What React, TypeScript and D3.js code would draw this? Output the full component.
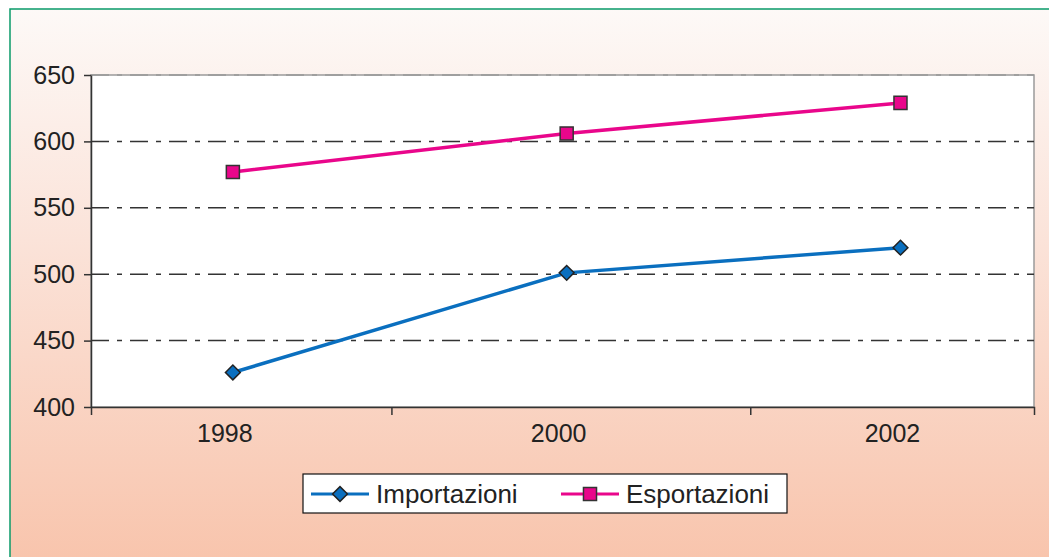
import * as d3 from 'd3';
import React, { useRef, useEffect } from 'react';

const years = [1998, 2000, 2002];
const importazioni = [426, 501, 520];
const esportazioni = [577, 606, 629];
const yTicks = [400, 450, 500, 550, 600, 650];
const seriesNames = ['Importazioni', 'Esportazioni'];

const W = 1049;
const H = 557;
const FONT = '"Liberation Sans", Arial, sans-serif';

function LineChart() {
    const ref = useRef<SVGSVGElement>(null);

    useEffect(() => {
        draw();
    }, []);

    const draw = () => {
        const svg = d3.select(ref.current);
        svg.selectAll('*').remove();

        const plot = { left: 91, right: 1034, top: 75, bottom: 407 };

        // background gradient
        const defs = svg.append('defs');
        const grad = defs.append('linearGradient')
            .attr('id', 'bg')
            .attr('x1', 0).attr('y1', 0).attr('x2', 0).attr('y2', 1);
        grad.append('stop').attr('offset', '0%').attr('stop-color', '#fdf9f7');
        grad.append('stop').attr('offset', '40%').attr('stop-color', '#fbe3d9');
        grad.append('stop').attr('offset', '100%').attr('stop-color', '#f8c2a9');

        svg.append('rect')
            .attr('x', 10).attr('y', 9)
            .attr('width', W + 20).attr('height', H + 20)
            .attr('fill', 'url(#bg)')
            .attr('stroke', '#0a9a6a')
            .attr('stroke-width', 1.5);

        // Scales
        const x = d3.scaleLinear()
            .domain([1997.15, 2002.8])
            .range([plot.left, plot.right]);

        const y = d3.scaleLinear()
            .domain([400, 650])
            .range([plot.bottom, plot.top]);

        // plot area
        svg.append('rect')
            .attr('x', plot.left).attr('y', plot.top)
            .attr('width', plot.right - plot.left)
            .attr('height', plot.bottom - plot.top)
            .attr('fill', '#ffffff')
            .attr('stroke', '#9a9a9a')
            .attr('stroke-width', 1.5);

        // grid
        svg.append('g')
            .selectAll('line')
            .data(yTicks.filter(t => t > 400))
            .enter()
            .append('line')
            .attr('x1', plot.left).attr('x2', plot.right)
            .attr('y1', d => y(d)).attr('y2', d => y(d))
            .attr('stroke', d => d === 650 ? '#999' : '#333')
            .attr('stroke-width', 1.5)
            .attr('stroke-dasharray', '18,8,5,8');

        // Axes
        const yAxis = d3.axisLeft(y)
            .tickValues(yTicks)
            .tickSize(7)
            .tickPadding(9)
            .tickSizeOuter(0);

        const yAxisDraw = svg.append('g')
            .attr('transform', `translate(${plot.left}, 0)`)
            .call(yAxis);
        yAxisDraw.attr('font-size', null).attr('font-family', null);
        yAxisDraw.select('.domain').attr('stroke', '#333').attr('stroke-width', 1.5);
        yAxisDraw.selectAll('.tick line').attr('stroke', '#333').attr('stroke-width', 1.5);
        yAxisDraw.selectAll('text')
            .attr('font-family', FONT)
            .attr('font-size', 25)
            .attr('fill', '#222');

        // category separators between the years
        const xAxis = d3.axisBottom(x)
            .tickValues([1998.95, 2001.1])
            .tickSize(8)
            .tickFormat(() => '')
            .tickSizeOuter(8);

        const xAxisDraw = svg.append('g')
            .attr('transform', `translate(0, ${plot.bottom})`)
            .call(xAxis);
        xAxisDraw.select('.domain').attr('stroke', '#333').attr('stroke-width', 1.5);
        xAxisDraw.selectAll('.tick line').attr('stroke', '#333').attr('stroke-width', 1.5);

        svg.append('g')
            .selectAll('text')
            .data(years)
            .enter()
            .append('text')
            .attr('x', d => x(d) - 8)
            .attr('y', plot.bottom + 35)
            .attr('text-anchor', 'middle')
            .attr('font-family', FONT)
            .attr('font-size', 25)
            .attr('fill', '#222')
            .text(d => d);

        // Lines
        const line = d3.line<number>()
            .x((d, i) => x(years[i]))
            .y(d => y(d));

        const blue = '#0a6fbf';
        const pink = '#e9068b';

        svg.append('path')
            .datum(importazioni)
            .attr('d', line)
            .attr('fill', 'none')
            .attr('stroke', blue)
            .attr('stroke-width', 3.5);

        svg.append('path')
            .datum(esportazioni)
            .attr('d', line)
            .attr('fill', 'none')
            .attr('stroke', pink)
            .attr('stroke-width', 3.5);

        const diamond = d3.symbol().type(d3.symbolSquare).size(110);
        const square = d3.symbol().type(d3.symbolSquare).size(170);

        svg.append('g')
            .selectAll('path')
            .data(importazioni)
            .enter()
            .append('path')
            .attr('d', diamond)
            .attr('transform', (d, i) => `translate(${x(years[i])}, ${y(d)}) rotate(45)`)
            .attr('fill', blue)
            .attr('stroke', '#222')
            .attr('stroke-width', 1.5);

        svg.append('g')
            .selectAll('path')
            .data(esportazioni)
            .enter()
            .append('path')
            .attr('d', square)
            .attr('transform', (d, i) => `translate(${x(years[i])}, ${y(d)})`)
            .attr('fill', pink)
            .attr('stroke', '#333')
            .attr('stroke-width', 1.5);

        // Legend
        const legend = svg.append('g').attr('transform', 'translate(303, 474)');
        legend.append('rect')
            .attr('width', 484).attr('height', 39)
            .attr('fill', '#fff')
            .attr('stroke', '#111')
            .attr('stroke-width', 1.2);

        const items = [
            { name: seriesNames[0], color: blue, sym: diamond, rot: 45, x0: 8, stroke: '#222' },
            { name: seriesNames[1], color: pink, sym: square, rot: 0, x0: 258, stroke: '#333' },
        ];
        items.forEach(it => {
            const g = legend.append('g').attr('transform', `translate(${it.x0}, 20)`);
            g.append('line')
                .attr('x1', 0).attr('x2', 58)
                .attr('stroke', it.color).attr('stroke-width', 3);
            g.append('path')
                .attr('d', it.sym)
                .attr('transform', `translate(29, 0) rotate(${it.rot})`)
                .attr('fill', it.color)
                .attr('stroke', it.stroke)
                .attr('stroke-width', 1.5);
            g.append('text')
                .attr('x', 65)
                .attr('y', 9)
                .attr('font-family', FONT)
                .attr('font-size', 26)
                .attr('fill', '#222')
                .text(it.name);
        });
    };

    return (
        <svg ref={ref} width={W} height={H}
            style={{ position: 'absolute', left: 0, top: 0, display: 'block' }} />
    );
}

export default function App() {
    return <LineChart />;
}
